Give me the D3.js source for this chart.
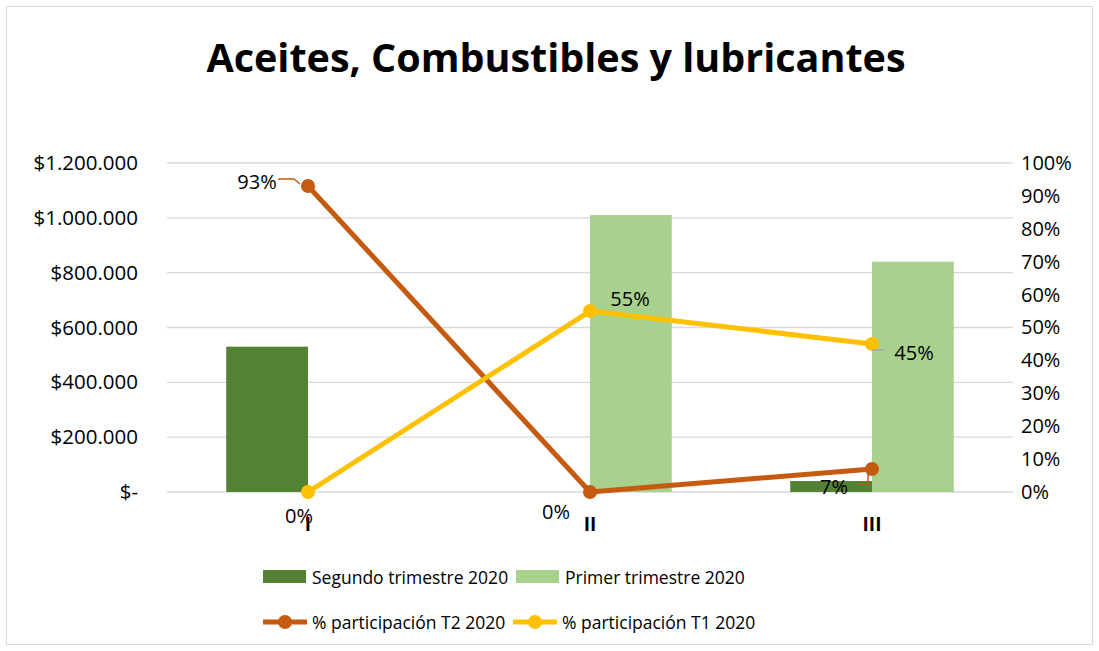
<!DOCTYPE html>
<html>
<head>
<meta charset="utf-8">
<script src="https://cdn.jsdelivr.net/npm/d3@7"></script>
<style>
  body { margin: 0; background: #fff; }
  text { font-family: "Open Sans", "Noto Sans", sans-serif; fill: #000; }
</style>
</head>
<body>
<div id="chart"></div>
<script>
// Data
let categories = ['I', 'II', 'III']
let segundo = [530000, 0, 40000]
let primer = [0, 1010000, 840000]
let partT2 = [0.93, 0, 0.07]
let partT1 = [0, 0.55, 0.45]
let moneyTicks = [0, 200000, 400000, 600000, 800000, 1000000, 1200000]
let pctTicks = [0, 0.1, 0.2, 0.3, 0.4, 0.5, 0.6, 0.7, 0.8, 0.9, 1]

let W = 1099, H = 651
let margin = {t: 163, r: 86, b: 159, l: 167}
let plotW = W - margin.l - margin.r
let plotH = H - margin.t - margin.b

let svg = d3.select('#chart').append('svg')
  .attr('width', W).attr('height', H)

// chart border
svg.append('rect')
  .attr('x', 6.5).attr('y', 6.5).attr('width', W - 13).attr('height', H - 13)
  .attr('fill', 'none').attr('stroke', '#D9D9D9')

svg.append('text')
  .attr('x', 556).attr('y', 72)
  .attr('text-anchor', 'middle')
  .style('font-size', '39.5px').style('font-weight', 'bold')
  .text('Aceites, Combustibles y lubricantes')

let g = svg.append('g').attr('transform', `translate(${margin.l},${margin.t})`)

let x = d3.scaleBand().domain(categories).range([0, plotW])
let xSub = d3.scaleBand().domain(['seg', 'pri']).range([x.bandwidth() * 0.21, x.bandwidth() * 0.79])
let yL = d3.scaleLinear().domain([0, 1200000]).range([plotH, 0])
let yR = d3.scaleLinear().domain([0, 1]).range([plotH, 0])

// gridlines
g.append('g').selectAll('line').data(moneyTicks).enter().append('line')
  .attr('x1', 0).attr('x2', plotW)
  .attr('y1', d => yL(d)).attr('y2', d => yL(d))
  .attr('stroke', '#D9D9D9').attr('stroke-width', 1.3)

// left axis
let fmtMoney = d => d === 0 ? '$-' : '$' + d3.format(',')(d).replace(/,/g, '.')
let axL = g.append('g').call(d3.axisLeft(yL).tickValues(moneyTicks).tickFormat(fmtMoney).tickSize(0).tickPadding(29))
axL.select('.domain').remove()
axL.selectAll('text').style('font-size', '20.5px').style('font-family', '"Open Sans", sans-serif')

// right axis
let axR = g.append('g').attr('transform', `translate(${plotW},0)`)
  .call(d3.axisRight(yR).tickValues(pctTicks).tickFormat(d3.format('.0%')).tickSize(0).tickPadding(8))
axR.select('.domain').remove()
axR.selectAll('text').style('font-size', '20px').style('font-family', '"Open Sans", sans-serif')

// bars
let barData = []
categories.forEach((c, i) => {
  barData.push({cat: c, key: 'seg', v: segundo[i]})
  barData.push({cat: c, key: 'pri', v: primer[i]})
})
g.append('g').selectAll('rect').data(barData).enter().append('rect')
  .attr('x', d => x(d.cat) + xSub(d.key))
  .attr('width', xSub.bandwidth())
  .attr('y', d => yL(d.v))
  .attr('height', d => plotH - yL(d.v))
  .attr('fill', d => d.key === 'seg' ? '#548235' : '#A9D18E')

// category labels
g.append('g').selectAll('text').data(categories).enter().append('text')
  .attr('x', d => x(d) + x.bandwidth() / 2)
  .attr('y', plotH + 39)
  .attr('text-anchor', 'middle')
  .style('font-size', '19px').style('font-weight', 'bold')
  .text(d => d)

// lines
let cx = i => x(categories[i]) + x.bandwidth() / 2
let line = d3.line().x((d, i) => cx(i)).y(d => yR(d))
let series = [
  {vals: partT2, color: '#C55A11'},
  {vals: partT1, color: '#FFC000'}
]
series.forEach(s => {
  g.append('path').datum(s.vals)
    .attr('d', line).attr('fill', 'none')
    .attr('stroke', s.color).attr('stroke-width', 5).attr('stroke-linejoin', 'round')
  g.append('g').selectAll('circle').data(s.vals).enter().append('circle')
    .attr('cx', (d, i) => cx(i)).attr('cy', d => yR(d)).attr('r', 7)
    .attr('fill', s.color)
})

// data labels
let fmtPct = d3.format('.0%')
let labels = [
  {v: partT2, i: 0, dx: -51, dy: 3, lead: [[-30, -7], [-14, -7], [-8, -2]], color: '#C55A11'},
  {v: partT1, i: 0, dx: -9, dy: 31},
  {v: partT2, i: 1, dx: -34, dy: 27},
  {v: partT1, i: 1, dx: 40, dy: -5},
  {v: partT1, i: 2, dx: 42, dy: 16, lead: [[0, 6], [12, 6]], color: '#A6A6A6'},
  {v: partT2, i: 2, dx: -38, dy: 25, lead: [[-14, 15], [-4, 15], [-4, 4]], color: '#C55A11'}
]
labels.forEach(l => {
  let px = cx(l.i), py = yR(l.v[l.i])
  if (l.lead) {
    g.append('path')
      .attr('d', d3.line()(l.lead.map(p => [px + p[0], py + p[1]])))
      .attr('fill', 'none').attr('stroke', l.color).attr('stroke-width', 1.5)
  }
  g.append('text')
    .attr('x', px + l.dx).attr('y', py + l.dy)
    .attr('text-anchor', 'middle')
    .style('font-size', '20px')
    .text(fmtPct(l.v[l.i]))
})

// legend
let leg = svg.append('g')
let legItems = [
  {type: 'bar', color: '#548235', label: 'Segundo trimestre 2020', x: 263, y: 577},
  {type: 'bar', color: '#A9D18E', label: 'Primer trimestre 2020', x: 516, y: 577},
  {type: 'line', color: '#C55A11', label: '% participación T2 2020', x: 263, y: 622},
  {type: 'line', color: '#FFC000', label: '% participación T1 2020', x: 513, y: 622}
]
legItems.forEach(d => {
  if (d.type === 'bar') {
    leg.append('rect').attr('x', d.x).attr('y', d.y - 7).attr('width', 43).attr('height', 13).attr('fill', d.color)
  } else {
    leg.append('line').attr('x1', d.x).attr('x2', d.x + 44).attr('y1', d.y).attr('y2', d.y)
      .attr('stroke', d.color).attr('stroke-width', 5)
    leg.append('circle').attr('cx', d.x + 22).attr('cy', d.y).attr('r', 7).attr('fill', d.color)
  }
  leg.append('text').attr('x', d.x + 49).attr('y', d.y + 7)
    .style('font-size', '17.5px')
    .text(d.label)
})
</script>
</body>
</html>
